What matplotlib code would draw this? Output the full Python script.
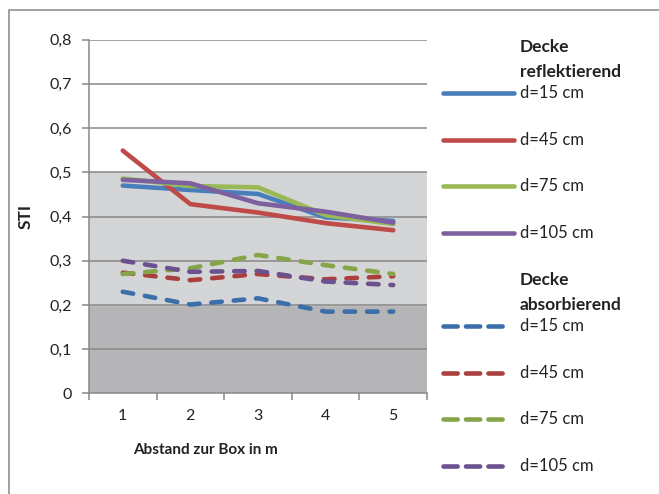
import matplotlib
matplotlib.use("Agg")
import matplotlib.pyplot as plt
from matplotlib.lines import Line2D
from matplotlib.patches import Rectangle

plt.rcParams['font.family'] = ['Lato', 'DejaVu Sans']

# Abstand zur Box in m
abstand = [1, 2, 3, 4, 5]

# Decke reflektierend
refl_15 = [0.470, 0.460, 0.451, 0.398, 0.390]
refl_45 = [0.549, 0.428, 0.409, 0.385, 0.369]
refl_75 = [0.486, 0.469, 0.466, 0.403, 0.383]
refl_105 = [0.483, 0.475, 0.430, 0.411, 0.386]

# Decke absorbierend
abs_15 = [0.230, 0.201, 0.215, 0.185, 0.185]
abs_45 = [0.273, 0.256, 0.270, 0.258, 0.265]
abs_75 = [0.270, 0.283, 0.313, 0.290, 0.270]
abs_105 = [0.300, 0.275, 0.277, 0.253, 0.245]

labels = ["d=15 cm", "d=45 cm", "d=75 cm", "d=105 cm"]
farben_refl = ["#4a7ebb", "#be4b48", "#98b954", "#7d60a0"]
farben_abs = ["#3c6fa9", "#a9403d", "#86a548", "#6b5190"]
yticks = [0, 0.1, 0.2, 0.3, 0.4, 0.5, 0.6, 0.7, 0.8]

LW = 3.3
DASH = (2.3, 2.6)
TXT = "#222222"

fig = plt.figure(figsize=(6.59, 4.94), dpi=100)
ax = fig.add_axes([0.135, 0.2036, 0.513, 0.7162])

# Hintergrundbereiche
ax.axhspan(0, 0.2, color="#b5b5b7", zorder=0)
ax.axhspan(0.2, 0.5, color="#d4d5d7", zorder=0)
for y in yticks[1:]:
    ax.axhline(y, color="#888888", lw=1.1, zorder=1)

reihen_refl = [refl_15, refl_45, refl_75, refl_105]
reihen_abs = [abs_15, abs_45, abs_75, abs_105]
for werte, c in zip(reihen_abs, farben_abs):
    ax.plot(abstand, werte, color=c, lw=LW, ls=(0, DASH),
            dash_capstyle="round", zorder=3)
for werte, c in zip(reihen_refl, farben_refl):
    ax.plot(abstand, werte, color=c, lw=LW, solid_capstyle="round", zorder=4)

ax.set_xlim(0.5, 5.5)
ax.set_ylim(0, 0.8)
ax.set_xticks(abstand)
ax.set_xticks([0.5, 1.5, 2.5, 3.5, 4.5, 5.5], minor=True)
ax.tick_params(axis="x", which="major", length=0, pad=11, labelsize=11.5, colors=TXT)
ax.tick_params(axis="x", which="minor", length=5, color="#888888", width=1.1)
ax.set_yticks(yticks)
ax.set_yticklabels([("%.1f" % v).replace(".", ",") if v else "0" for v in yticks])
ax.tick_params(axis="y", length=5, color="#888888", width=1.1, pad=7,
               labelsize=11.5, labelcolor=TXT)
for side in ["top", "right"]:
    ax.spines[side].set_visible(False)
for side in ["left", "bottom"]:
    ax.spines[side].set_color("#888888")
    ax.spines[side].set_linewidth(1.1)

ax.set_xlabel("Abstand zur Box in m", fontsize=11, fontweight="bold", color=TXT)
ax.xaxis.set_label_coords(0.345, -0.14)
ax.set_ylabel("STI", fontsize=12.5, fontweight="bold", color=TXT)
ax.yaxis.set_label_coords(-0.163, 0.5)

# Legende von Hand
W, H = 659.0, 494.0

def fx(px):
    return px / W

def fy(py):
    return 1 - py / H

def eintrag(y, c, ls):
    if ls == "-":
        fig.add_artist(Line2D([fx(443), fx(514)], [fy(y), fy(y)], color=c, lw=LW,
                              solid_capstyle="round"))
    else:
        fig.add_artist(Line2D([fx(443), fx(506)], [fy(y), fy(y)], color=c, lw=LW,
                              ls=(0, (3.1, 1.8)), dash_capstyle="round"))

def text(y, s, bold=False):
    fig.text(fx(520), fy(y), s, fontsize=12 if not bold else 12.5,
             va="center", ha="left", color=TXT,
             fontweight="bold" if bold else "normal")

text(47, "Decke", True)
text(72, "reflektierend", True)
for i, (lab, c) in enumerate(zip(labels, farben_refl)):
    y = 93 + i * 46.6
    eintrag(y, c, "-")
    text(y, lab)
text(280, "Decke", True)
text(305, "absorbierend", True)
for i, (lab, c) in enumerate(zip(labels, farben_abs)):
    y = 326 + i * 46.5
    eintrag(y, c, "--")
    text(y, lab)

# Rahmen um das Diagramm
fig.add_artist(Rectangle((fx(9), fy(500)), 1, fy(10) - fy(500), fill=False,
                         edgecolor="#888888", lw=1.1, transform=fig.transFigure))

fig.savefig("out.png", dpi=100)
